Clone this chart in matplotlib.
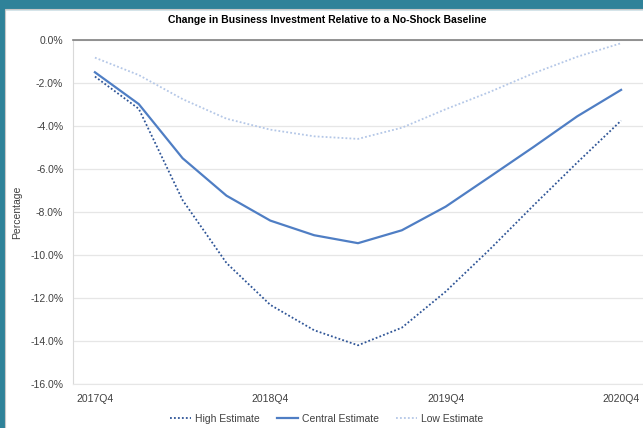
import numpy as np
import matplotlib.pyplot as plt
from matplotlib.patches import Rectangle

plt.rcParams['font.family'] = ['Liberation Sans', 'DejaVu Sans']

quarters = ['2017Q4', '2018Q1', '2018Q2', '2018Q3', '2018Q4', '2019Q1', '2019Q2',
            '2019Q3', '2019Q4', '2020Q1', '2020Q2', '2020Q3', '2020Q4']
high = [-1.7, -3.2, -7.45, -10.37, -12.32, -13.5, -14.2, -13.38, -11.7, -9.75, -7.7, -5.7, -3.75]
central = [-1.5, -2.98, -5.5, -7.24, -8.4, -9.08, -9.45, -8.85, -7.75, -6.37, -4.98, -3.55, -2.32]
low = [-0.82, -1.63, -2.75, -3.66, -4.17, -4.48, -4.6, -4.08, -3.22, -2.42, -1.55, -0.78, -0.15]
label_quarters = ['2017Q4', '2018Q4', '2019Q4', '2020Q4']

fig = plt.figure(figsize=(6.43, 4.28), dpi=100)
# teal frame at top and left, thin grey edge round the white chart area
fig.patches.append(Rectangle((0, 1 - 9/428), 1, 9/428, transform=fig.transFigure,
                             color='#2F8299', zorder=0))
fig.patches.append(Rectangle((0, 0), 4/643, 1, transform=fig.transFigure,
                             color='#2F8299', zorder=0))
fig.patches.append(Rectangle((4.5/643, -0.01), 1, 1 - 9.5/428 + 0.01, transform=fig.transFigure,
                             facecolor='none', edgecolor='#C8C8C8', lw=0.8, zorder=1))

ax = fig.add_axes([73/643, 1 - 384/428, 570/643, 344/428])
x = np.arange(len(quarters))
ax.plot(x, high, color='#2F5597', lw=1.3, ls=(0, (1, 1.2)), label='High Estimate')
ax.plot(x, central, color='#4F7EC4', lw=1.6, label='Central Estimate')
ax.plot(x, low, color='#B4C7E7', lw=1.3, ls=(0, (1, 1.2)), label='Low Estimate')

ax.set_xlim(-0.5, len(quarters) - 0.5)
ax.set_ylim(-16, 0)
ax.set_yticks(np.arange(-16, 0.1, 2))
ax.set_yticklabels(['%.1f%%' % v for v in np.arange(-16, 0.1, 2)])
ax.set_xticks([quarters.index(q) for q in label_quarters])
ax.set_xticklabels(label_quarters)
ax.tick_params(length=0, labelsize=7.5, colors='#404040')
ax.tick_params(axis='y', pad=7)
ax.tick_params(axis='x', pad=7)
ax.grid(axis='y', color='#E6E6E6', lw=0.9)
ax.set_axisbelow(True)
ax.spines['right'].set_visible(False)
ax.spines['bottom'].set_color('#E6E6E6')
ax.spines['left'].set_color('#D9D9D9')
ax.spines['top'].set_color('#808080')
ax.spines['top'].set_linewidth(1.2)
ax.set_ylabel('Percentage', fontsize=7.5, color='#404040')
ax.yaxis.set_label_coords((22 - 73) / 570, 0.5)
fig.text(327/643, 1 - 20/428, 'Change in Business Investment Relative to a No-Shock Baseline',
         fontsize=7.5, fontweight='bold', ha='center', va='center')
ax.legend(loc='upper center', bbox_to_anchor=(0.4456, -0.06), ncol=3, frameon=False,
          fontsize=7.5, handlelength=2.0, columnspacing=1.65, handletextpad=0.4,
          labelcolor='#404040')

fig.savefig('out.png', dpi=100)
